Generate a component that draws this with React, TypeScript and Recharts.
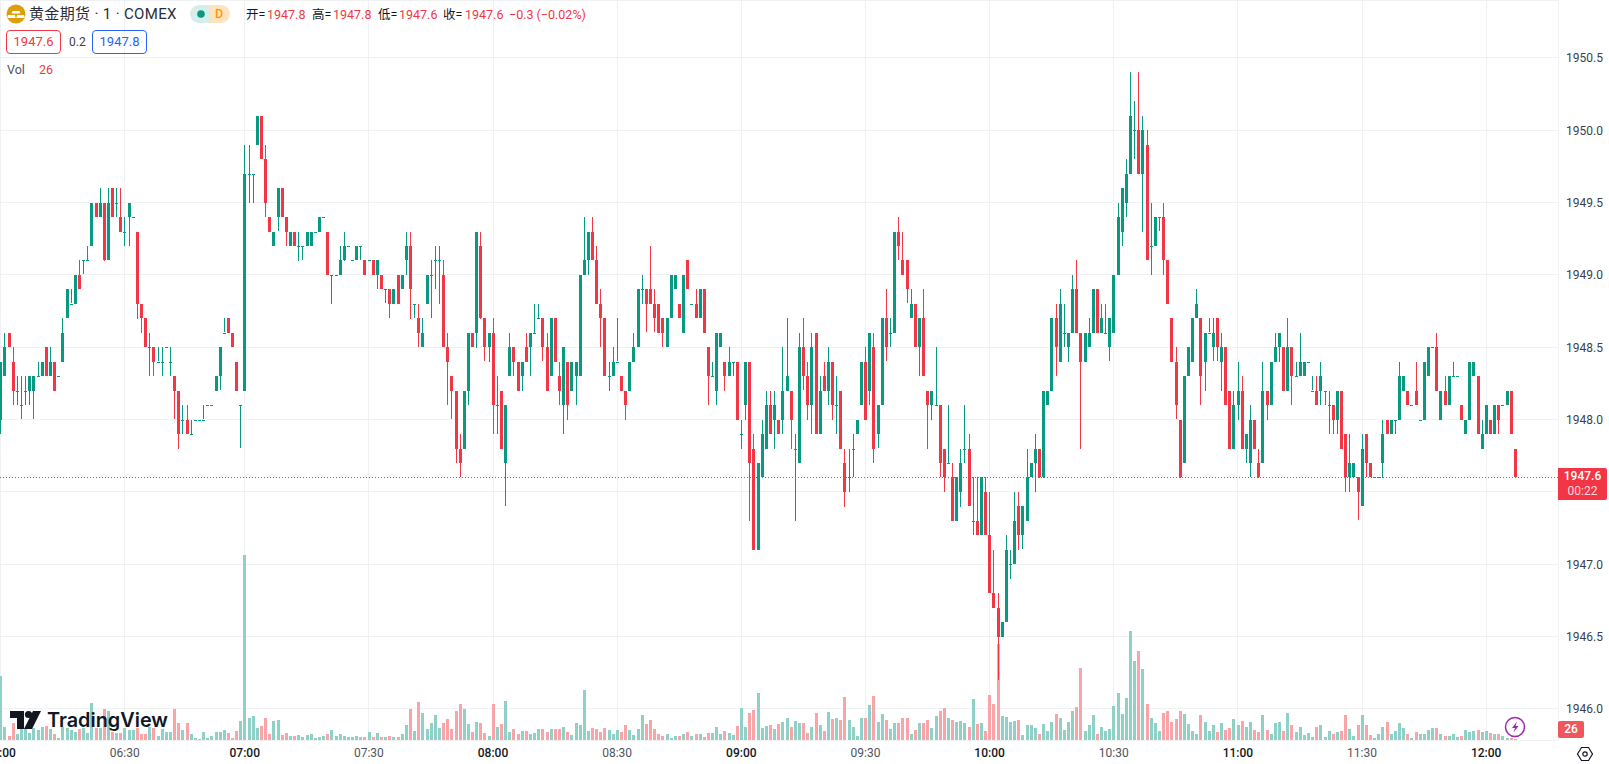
import React from "react";
import { ComposedChart, Bar, XAxis, YAxis, CartesianGrid, ReferenceLine } from "recharts";

// Prices are written relative to this base: 48.3 means 1948.3.
const PRICE_BASE = 1900;

const opens = [
  48.0,48.3,48.6,48.4,48.2,48.1,48.2,48.2,48.2,48.3,
  48.3,48.5,48.3,48.4,48.3,48.4,48.7,48.8,48.8,49.0,
  49.1,49.1,49.2,49.5,49.4,49.5,49.1,49.6,49.5,49.4,
  49.3,49.4,49.4,49.3,48.8,48.7,48.5,48.5,48.4,48.4,
  48.5,48.4,48.3,48.2,48.0,48.0,47.9,48.0,48.0,48.0,
  48.1,48.1,48.2,48.3,48.6,48.7,48.6,48.4,48.1,48.2,
  49.7,49.7,49.9,50.1,49.8,49.4,49.2,49.4,49.6,49.4,
  49.2,49.3,49.2,49.2,49.2,49.2,49.3,49.3,49.4,49.3,
  49.0,49.0,49.0,49.1,49.2,49.1,49.1,49.2,49.1,49.1,
  49.1,49.0,49.0,48.9,48.9,48.8,49.0,48.9,49.1,49.2,
  48.8,48.7,48.5,48.8,49.0,49.1,49.1,49.0,48.5,48.3,
  48.2,47.8,47.8,48.2,48.6,48.6,49.2,48.7,48.5,48.6,
  48.1,48.2,47.7,48.3,48.5,48.4,48.3,48.5,48.5,48.6,
  48.7,48.7,48.5,48.3,48.7,48.3,48.1,48.4,48.2,48.3,
  48.3,49.0,49.1,49.3,49.1,48.8,48.7,48.3,48.3,48.4,
  48.3,48.2,48.2,48.4,48.5,48.9,48.9,48.9,48.8,48.8,
  48.7,48.5,48.7,48.9,48.8,48.6,49.1,48.8,48.8,48.7,
  48.9,48.5,48.3,48.2,48.5,48.4,48.3,48.4,48.4,47.9,
  48.1,48.4,47.8,47.1,47.6,47.8,48.1,48.0,48.0,48.0,
  48.2,48.2,47.8,47.7,48.5,48.3,48.1,48.6,47.9,48.3,
  48.2,48.4,48.1,48.2,47.7,47.6,47.8,47.9,48.1,48.4,
  48.2,48.5,47.9,48.1,48.7,48.6,48.6,49.3,49.1,49.1,
  48.7,48.8,48.5,48.7,48.2,48.1,48.1,48.1,47.8,47.7,
  47.6,47.3,47.5,47.8,47.8,47.3,47.3,47.2,47.5,47.2,
  46.8,46.7,46.5,46.6,47.0,47.0,47.4,47.2,47.3,47.6,
  47.7,47.8,47.6,48.1,48.2,48.7,48.4,48.6,48.5,48.6,
  48.9,48.6,48.4,48.5,48.6,48.9,48.6,48.6,48.5,48.6,
  49.0,49.3,49.5,49.7,50.0,50.0,49.7,49.9,49.2,49.2,
  49.4,49.4,49.1,48.7,48.4,48.0,47.7,48.3,48.4,48.7,
  48.7,48.4,48.6,48.5,48.7,48.4,48.5,48.2,47.8,48.1,
  48.2,47.8,47.7,48.0,47.7,47.7,48.2,48.1,48.4,48.5,
  48.5,48.2,48.5,48.3,48.3,48.3,48.4,48.2,48.2,48.2,
  48.2,48.1,48.1,48.0,48.2,47.9,47.6,47.6,47.6,47.4,
  47.9,47.7,47.6,47.6,47.7,48.0,47.9,48.0,48.0,48.2,
  48.2,48.1,48.2,48.0,48.0,48.3,48.5,48.5,48.0,48.2,
  48.1,48.3,48.3,48.1,47.9,48.0,48.3,48.3,47.8,47.9,
  48.0,47.9,48.1,48.1,48.1,48.2,47.8,
];

const closes = [
  48.4,48.5,48.5,48.2,48.2,48.1,48.2,48.3,48.3,48.3,
  48.4,48.3,48.4,48.2,48.3,48.6,48.9,48.8,49.0,48.9,
  49.1,49.1,49.5,49.4,49.5,49.1,49.5,49.4,49.5,49.3,
  49.3,49.5,49.4,48.8,48.7,48.5,48.5,48.4,48.4,48.4,
  48.5,48.4,48.2,47.9,48.0,47.9,47.9,48.0,48.0,48.0,
  48.1,48.1,48.3,48.5,48.6,48.6,48.5,48.2,48.1,49.7,
  49.7,49.7,50.1,49.8,49.5,49.3,49.3,49.6,49.4,49.3,
  49.3,49.2,49.2,49.2,49.3,49.3,49.3,49.4,49.4,49.0,
  49.0,49.0,49.1,49.2,49.2,49.1,49.2,49.2,49.0,49.1,
  49.0,49.1,48.9,48.9,48.8,48.9,48.8,49.0,49.2,48.9,
  48.8,48.6,48.6,49.0,49.0,49.1,49.1,48.5,48.4,48.2,
  47.8,47.7,48.2,48.6,48.5,49.3,48.7,48.5,48.6,48.1,
  48.1,47.8,48.1,48.5,48.4,48.2,48.4,48.4,48.6,48.6,
  48.7,48.5,48.2,48.7,48.4,48.2,48.5,48.1,48.4,48.4,
  49.0,49.1,49.3,49.1,48.8,48.7,48.3,48.3,48.4,48.4,
  48.2,48.1,48.4,48.5,48.9,48.9,48.8,48.8,48.7,48.6,
  48.6,48.7,49.0,49.0,48.7,49.0,48.9,48.8,48.7,48.9,
  48.6,48.3,48.3,48.6,48.6,48.3,48.4,48.4,48.0,47.9,
  48.4,47.7,47.1,47.7,47.9,48.1,47.9,48.1,47.9,48.2,
  48.3,48.0,47.8,48.5,48.3,48.1,48.5,47.9,48.2,48.2,
  48.4,48.1,48.1,47.8,47.5,47.6,47.8,48.0,48.4,48.0,
  48.6,47.8,48.1,48.7,48.5,48.6,49.3,49.2,49.0,48.9,
  48.8,48.5,48.7,48.3,48.1,48.2,48.1,47.7,47.6,47.7,
  47.3,47.6,47.7,47.8,47.4,47.3,47.2,47.6,47.2,46.8,
  46.7,46.5,46.6,47.1,47.0,47.3,47.2,47.4,47.6,47.7,
  47.8,47.6,48.2,48.2,48.7,48.5,48.8,48.6,48.6,48.9,
  48.6,48.4,48.6,48.6,48.9,48.6,48.7,48.6,48.7,49.0,
  49.4,49.6,49.7,50.1,50.0,49.7,50.0,49.1,49.2,49.4,
  49.4,49.1,48.8,48.4,48.1,47.6,48.3,48.5,48.7,48.8,
  48.3,48.6,48.6,48.6,48.5,48.5,48.1,47.8,48.1,48.2,
  47.8,47.9,48.0,47.8,47.6,48.2,48.1,48.4,48.5,48.6,
  48.2,48.5,48.3,48.3,48.4,48.4,48.4,48.2,48.1,48.3,
  48.2,48.1,48.0,48.2,47.8,47.6,47.7,47.7,47.5,47.8,
  47.7,47.6,47.6,47.6,47.9,47.9,48.0,48.0,48.3,48.3,
  48.1,48.1,48.1,48.0,48.4,48.5,48.5,48.2,48.2,48.1,
  48.3,48.3,48.3,48.0,48.0,48.4,48.4,47.9,47.9,48.1,
  47.9,48.1,48.0,48.1,48.2,47.9,47.6,
];

const highs = [
  48.4,48.6,48.6,48.5,48.3,48.3,48.3,48.3,48.3,48.4,
  48.4,48.5,48.5,48.4,48.3,48.7,48.9,48.9,49.0,49.1,
  49.1,49.2,49.5,49.5,49.6,49.5,49.6,49.6,49.6,49.6,
  49.4,49.5,49.4,49.3,48.8,48.7,48.6,48.5,48.5,48.5,
  48.5,48.5,48.3,48.2,48.1,48.1,48.0,48.0,48.0,48.1,
  48.1,48.1,48.3,48.5,48.7,48.7,48.6,48.4,48.1,49.9,
  49.9,49.7,50.1,50.1,49.9,49.4,49.3,49.6,49.6,49.4,
  49.3,49.3,49.3,49.2,49.3,49.3,49.3,49.4,49.4,49.3,
  49.0,49.0,49.2,49.3,49.2,49.1,49.2,49.2,49.1,49.1,
  49.1,49.1,49.0,48.9,48.9,48.9,49.0,49.0,49.3,49.3,
  48.8,48.8,48.7,49.0,49.1,49.2,49.2,49.1,48.6,48.3,
  48.2,47.9,48.2,48.6,48.6,49.3,49.3,48.7,48.6,48.7,
  48.3,48.2,48.1,48.6,48.5,48.4,48.4,48.6,48.6,48.8,
  48.8,48.7,48.6,48.7,48.7,48.4,48.5,48.4,48.4,48.4,
  49.0,49.4,49.3,49.4,49.2,48.9,48.7,48.4,48.5,48.7,
  48.3,48.2,48.4,48.6,48.9,49.0,48.9,49.2,48.9,48.8,
  48.7,48.7,49.0,49.0,48.8,49.0,49.1,48.8,48.9,48.9,
  48.9,48.5,48.4,48.6,48.6,48.4,48.5,48.4,48.4,48.0,
  48.4,48.4,47.9,47.7,48.0,48.2,48.2,48.2,48.0,48.5,
  48.7,48.2,47.9,48.6,48.7,48.4,48.6,48.6,48.3,48.4,
  48.5,48.4,48.3,48.2,47.8,47.8,47.9,48.0,48.4,48.5,
  48.6,48.6,48.1,48.7,48.9,48.7,49.3,49.4,49.3,49.1,
  48.9,48.8,48.7,48.9,48.2,48.2,48.5,48.1,47.8,48.1,
  47.7,47.6,47.8,48.1,47.9,47.6,47.6,47.6,47.6,47.5,
  47.1,46.8,46.6,47.2,47.1,47.5,47.5,47.4,47.8,47.7,
  47.9,47.8,48.2,48.2,48.7,48.8,48.9,48.8,48.6,49.0,
  49.1,48.6,48.6,48.7,48.9,48.9,48.8,48.8,48.7,49.0,
  49.5,49.6,49.8,50.4,50.2,50.4,50.1,50.0,49.5,49.4,
  49.4,49.5,49.1,48.7,48.5,48.0,48.3,48.5,48.7,48.9,
  48.7,48.6,48.7,48.7,48.7,48.6,48.5,48.2,48.2,48.4,
  48.3,47.9,48.1,48.0,47.8,48.4,48.2,48.4,48.6,48.6,
  48.5,48.7,48.5,48.4,48.6,48.4,48.4,48.3,48.3,48.4,
  48.2,48.2,48.1,48.2,48.2,47.9,47.9,47.7,47.6,47.9,
  47.9,47.7,47.6,47.6,48.0,48.0,48.0,48.0,48.4,48.3,
  48.2,48.1,48.4,48.0,48.4,48.5,48.5,48.6,48.2,48.3,
  48.3,48.4,48.3,48.1,48.0,48.4,48.4,48.3,48.0,48.1,
  48.0,48.1,48.1,48.1,48.2,48.2,47.8,
];

const lows = [
  47.9,48.3,48.5,48.1,48.1,48.0,48.1,48.1,48.0,48.3,
  48.3,48.3,48.3,48.2,48.3,48.4,48.7,48.8,48.8,48.9,
  49.0,49.1,49.2,49.4,49.4,49.1,49.1,49.4,49.4,49.3,
  49.2,49.2,49.4,48.7,48.6,48.5,48.3,48.3,48.4,48.3,
  48.5,48.3,48.0,47.8,47.9,47.9,47.9,48.0,48.0,48.0,
  48.1,48.1,48.2,48.2,48.6,48.6,48.5,48.2,47.8,48.2,
  49.5,49.5,49.9,49.8,49.4,49.3,49.2,49.3,49.4,49.2,
  49.2,49.2,49.1,49.1,49.2,49.2,49.3,49.3,49.4,49.0,
  48.8,49.0,49.0,49.1,49.2,49.1,49.1,49.1,49.0,49.1,
  49.0,48.9,48.9,48.8,48.7,48.8,48.8,48.9,49.0,48.7,
  48.7,48.5,48.5,48.8,48.7,48.9,48.8,48.5,48.1,48.0,
  47.7,47.6,47.8,48.1,48.5,48.5,48.7,48.4,48.4,47.9,
  47.9,47.8,47.4,48.3,48.3,48.2,48.2,48.4,48.3,48.6,
  48.7,48.4,48.2,48.3,48.4,48.1,47.9,48.0,48.2,48.1,
  48.3,49.0,49.0,49.1,48.8,48.5,48.3,48.2,48.3,48.4,
  48.2,48.0,48.2,48.4,48.5,48.8,48.6,48.8,48.6,48.6,
  48.5,48.5,48.7,48.9,48.7,48.6,48.9,48.8,48.7,48.7,
  48.6,48.1,48.3,48.1,48.5,48.2,48.3,48.3,48.0,47.8,
  48.0,47.3,47.1,47.1,47.6,47.8,47.9,47.8,47.9,47.9,
  48.2,47.8,47.3,47.7,48.2,48.0,47.9,47.9,47.9,48.2,
  48.1,48.0,47.9,47.8,47.4,47.5,47.6,47.9,48.1,48.0,
  48.1,47.7,47.8,48.1,48.4,48.5,48.6,49.1,49.0,48.8,
  48.7,48.5,48.3,48.3,47.8,48.0,48.1,47.6,47.5,47.7,
  47.3,47.3,47.4,47.7,47.4,47.2,47.2,47.2,47.2,46.8,
  46.7,46.2,46.5,46.6,46.9,47.0,47.1,47.1,47.3,47.6,
  47.5,47.6,47.6,48.1,48.2,48.3,48.4,48.5,48.4,48.6,
  48.6,47.8,48.4,48.5,48.6,48.6,48.6,48.6,48.4,48.6,
  49.0,49.2,49.4,49.7,49.8,49.7,49.3,49.1,49.0,49.2,
  49.3,49.0,48.8,48.4,48.0,47.6,47.7,48.3,48.4,48.7,
  48.1,48.2,48.6,48.4,48.4,48.2,48.1,47.8,47.8,48.0,
  47.8,47.7,47.6,47.8,47.6,47.7,48.0,48.1,48.4,48.4,
  48.2,48.2,48.1,48.3,48.3,48.3,48.4,48.2,48.1,48.1,
  48.1,47.9,47.9,47.9,47.8,47.5,47.5,47.6,47.3,47.4,
  47.6,47.6,47.6,47.6,47.6,47.9,47.9,47.9,48.0,48.2,
  48.1,48.1,48.1,48.0,48.0,48.3,48.5,48.2,48.0,48.1,
  48.1,48.3,48.3,48.0,47.9,48.0,48.3,47.9,47.8,47.9,
  47.9,47.9,47.9,48.1,48.1,47.9,47.6,
];

// Volume, in units of roughly twenty contracts, read from the bottom pane.
const volumes = [
  64,13,4,17,6,12,12,7,12,10,13,14,11,6,2,13,12,10,8,11,
  12,7,37,12,12,31,29,8,7,7,12,10,10,12,6,6,13,12,4,11,
  8,8,31,17,10,17,6,2,1,8,2,4,8,8,10,7,2,9,19,185,
  22,24,12,14,22,6,19,20,5,7,4,4,5,3,5,6,2,3,4,6,
  10,4,6,4,3,3,4,3,3,8,3,7,3,3,4,3,3,6,15,31,
  9,38,27,11,17,25,12,17,21,11,29,36,31,16,8,18,17,7,4,36,
  13,16,39,8,11,6,9,9,6,7,11,11,8,11,11,11,13,8,5,17,
  15,50,9,12,11,8,12,10,6,10,8,15,10,5,11,25,16,20,11,6,
  4,6,2,4,4,6,8,4,6,6,3,7,7,13,6,9,7,5,14,32,
  13,27,30,47,12,14,15,11,16,18,22,13,19,17,17,7,13,27,15,9,
  28,21,22,20,43,20,13,4,22,22,35,44,18,26,20,11,17,17,22,22,
  6,10,17,17,20,12,24,29,32,22,20,18,19,17,13,41,16,17,9,45,
  36,96,24,23,18,19,20,5,15,15,12,6,16,9,18,26,22,10,18,29,
  33,72,9,15,25,6,13,9,11,34,47,26,42,109,79,89,71,36,22,17,
  9,27,29,18,21,29,26,16,9,6,25,18,9,15,8,17,10,12,21,15,
  19,13,18,10,8,25,10,6,17,18,9,27,15,8,13,5,7,3,13,15,
  3,9,6,8,9,25,11,4,15,25,15,5,2,6,13,18,6,9,17,12,
  6,2,8,6,6,10,12,12,6,4,4,6,3,4,10,8,9,10,8,9,
  7,6,6,4,2,2,1,
];

const timeIndex = [0, 30, 59, 89, 119, 149, 179, 209, 239, 269, 299, 329, 359];
const timeLabels = ["06:00", "06:30", "07:00", "07:30", "08:00", "08:30", "09:00", "09:30", "10:00", "10:30", "11:00", "11:30", "12:00"];
const priceTicks = [1946, 1946.5, 1947, 1947.5, 1948, 1948.5, 1949, 1949.5, 1950, 1950.5];
// The live price tag sits over this tick in the reference, so its label stays empty.
const hiddenPriceLabel = 1947.5;

const GREEN = "#089981";
const RED = "#f23645";
const VOL_GREEN = "#8fd1c6";
const VOL_RED = "#f8a4a8";
const GRID = "#f0f1f3";
const INK = "#131722";
const UI_FONT = "Roboto, 'Noto Sans CJK SC', sans-serif";

const candles = opens.map((o, i) => ({
  i,
  open: PRICE_BASE + o,
  close: PRICE_BASE + closes[i],
  high: PRICE_BASE + highs[i],
  low: PRICE_BASE + lows[i],
  range: [PRICE_BASE + lows[i], PRICE_BASE + highs[i]],
  volume: volumes[i],
}));

function CandleShape(props: any) {
  const { x, y, height, payload } = props;
  const top = Math.min(y, y + height);
  const h = Math.abs(height);
  const span = payload.high - payload.low;
  const at = (v: number) => (span > 0 ? top + ((payload.high - v) / span) * h : top);
  const color = payload.close >= payload.open ? GREEN : RED;
  const left = Math.round(x - 0.2);
  const bodyTop = Math.round(at(Math.max(payload.open, payload.close)));
  const bodyBottom = Math.round(at(Math.min(payload.open, payload.close)));
  return (
    <g shapeRendering="crispEdges">
      {h > 0 && <rect x={left + 1} y={Math.round(top)} width={1} height={Math.max(1, Math.round(h))} fill={color} />}
      <rect x={left} y={bodyTop} width={3} height={Math.max(1, bodyBottom - bodyTop)} fill={color} />
    </g>
  );
}

function VolumeShape(props: any) {
  const { x, y, height, payload } = props;
  const top = Math.round(y);
  const bottom = Math.round(y + height);
  return (
    <rect
      x={Math.round(x - 0.2)}
      y={top}
      width={3}
      height={Math.max(1, bottom - top)}
      fill={payload.close >= payload.open ? VOL_GREEN : VOL_RED}
      shapeRendering="crispEdges"
    />
  );
}

function TimeTick(props: any) {
  const { x, y, payload } = props;
  const label = timeLabels[timeIndex.indexOf(payload.value)] ?? "";
  const isHour = label.endsWith(":00");
  return (
    <text x={x} y={y + 17} textAnchor="middle" fontSize={12} fontFamily={UI_FONT} fontWeight={isHour ? 500 : 400} fill={isHour ? INK : "#50535e"}>
      {label}
    </text>
  );
}

const label = (x: number, y: number, text: string, color: string, size = 13, extra: React.CSSProperties = {}) => (
  <div style={{ position: "absolute", left: x, top: y, fontSize: size, lineHeight: "18px", color, whiteSpace: "nowrap", fontFamily: UI_FONT, ...extra }}>{text}</div>
);

function Header() {
  return (
    <>
      <svg style={{ position: "absolute", left: 0, top: 0 }} width={240} height={30}>
        <circle cx={16} cy={14} r={9.5} fill="#dc9f0a" />
        <path d="M12.5 11 L19.5 11 L20.5 13.5 L11.5 13.5 Z" fill="#fff" />
        <path d="M8 15 L15 15 L15.6 18 L7.2 18 Z M17 15 L24 15 L24.8 18 L16.4 18 Z" fill="#fff" />
        <path d="M210 5 H199 A9 9 0 0 0 199 23 H210 Z" fill="#d5eeea" />
        <path d="M210 5 H221 A9 9 0 0 1 221 23 H210 Z" fill="#ffe3bf" />
        <circle cx={201} cy={14} r={3.8} fill={GREEN} />
      </svg>
      {label(29, 5, "黄金期货 · 1 · COMEX", "#2a2e39", 15, { letterSpacing: 0.35 })}
      {label(215, 5, "D", "#ff9800", 12.5, { fontWeight: 500 })}
      {label(246, 6, "开=", INK, 12.5)}
      {label(267, 6, "1947.8", RED, 12.5)}
      {label(312, 6, "高=", INK, 12.5)}
      {label(333, 6, "1947.8", RED, 12.5)}
      {label(378, 6, "低=", INK, 12.5)}
      {label(399, 6, "1947.6", RED, 12.5)}
      {label(443, 6, "收=", INK, 12.5)}
      {label(465, 6, "1947.6", RED, 12.5)}
      {label(509, 6, "−0.3 (−0.02%)", RED, 12.5)}
      <div style={{ position: "absolute", left: 6, top: 30, width: 53, height: 22, border: `1px solid ${RED}`, borderRadius: 4, color: RED, fontSize: 13, lineHeight: "22px", textAlign: "center", fontFamily: UI_FONT }}>1947.6</div>
      {label(69, 33, "0.2", "#3c3f48", 12)}
      <div style={{ position: "absolute", left: 92, top: 30, width: 53, height: 22, border: "1px solid #2962ff", borderRadius: 4, color: "#2962ff", fontSize: 13, lineHeight: "22px", textAlign: "center", fontFamily: UI_FONT }}>1947.8</div>
      {label(7, 61, "Vol", "#50535e", 12.5)}
      {label(39, 61, "26", RED, 12.5)}
    </>
  );
}

function Footer() {
  return (
    <>
      <svg style={{ position: "absolute", left: 0, top: 700 }} width={180} height={40}>
        <path d="M10 11 H24 V29 H17 V18 H10 Z" fill="#131722" />
        <circle cx={28.5} cy={14.5} r={3.6} fill="#131722" />
        <path d="M33 11 H41 L32 29 H24 Z" fill="#131722" />
        <text x={47} y={27} fontSize={20} fontWeight={600} fontFamily="Inter, Roboto, sans-serif" fill="#131722" textLength={121} lengthAdjust="spacingAndGlyphs">TradingView</text>
      </svg>
      <svg style={{ position: "absolute", left: 1501, top: 714 }} width={30} height={28}>
        <circle cx={14} cy={13} r={9.5} fill="#fff" stroke="#9c27b0" strokeWidth={1.5} />
        <path d="M16 7.5 L11 14 H14 L12.5 18.5 L17.5 12 H14.5 Z" fill="#9c27b0" />
      </svg>
      <svg style={{ position: "absolute", left: 1576, top: 744 }} width={20} height={20}>
        <path d="M5.5 3.5 H12.5 L16.5 10 L12.5 16.5 H5.5 L1.5 10 Z" fill="none" stroke="#131722" strokeWidth={1.2} />
        <circle cx={9} cy={10} r={2.2} fill="none" stroke="#131722" strokeWidth={1.2} />
      </svg>
      <div style={{ position: "absolute", left: 1558, top: 468, width: 49, height: 32, background: RED, borderRadius: "0 2px 2px 0", color: "#fff", fontFamily: UI_FONT, fontSize: 12, lineHeight: "15px", paddingTop: 1, boxSizing: "border-box", textAlign: "center" }}>
        <div style={{ fontWeight: 500 }}>1947.6</div>
        <div style={{ color: "#fcd7da" }}>00:22</div>
      </div>
      <div style={{ position: "absolute", left: 1558, top: 721, width: 26, height: 17, background: "#f0575c", borderRadius: 2, color: "#fff", fontFamily: UI_FONT, fontSize: 12, fontWeight: 500, lineHeight: "17px", textAlign: "center" }}>26</div>
    </>
  );
}

const X_DOMAIN: [number, number] = [-0.145, 376.36];

export default function App() {
  return (
    <div style={{ position: "absolute", left: 0, top: 0, width: 1609, height: 764, overflow: "hidden", background: "#fff" }}>
      <ComposedChart width={1609} height={764} data={candles} margin={{ top: 0, right: 0, bottom: 0, left: 0 }}>
        <CartesianGrid xAxisId="time" yAxisId="price" stroke={GRID} strokeWidth={1} shapeRendering="crispEdges" />
        <XAxis
          xAxisId="time"
          dataKey="i"
          type="number"
          domain={X_DOMAIN}
          allowDataOverflow
          ticks={timeIndex}
          interval={0}
          height={24}
          axisLine={false}
          tickLine={false}
          tickSize={0}
          tickMargin={0}
          tick={TimeTick}
        />
        <XAxis xAxisId="volumeTime" dataKey="i" type="number" domain={X_DOMAIN} allowDataOverflow hide height={0} />
        <YAxis
          yAxisId="price"
          orientation="right"
          type="number"
          domain={[1945.785, 1950.9008]}
          allowDataOverflow
          ticks={priceTicks}
          interval={0}
          width={51}
          axisLine={false}
          tickLine={false}
          tickSize={0}
          tickMargin={8}
          tickFormatter={(v: number) => (v === hiddenPriceLabel ? "" : v.toFixed(1))}
          tick={{ fontSize: 12, fontFamily: UI_FONT, fill: "#3c3f48" }}
        />
        <YAxis yAxisId="volume" hide type="number" domain={[0, 740]} allowDataOverflow />
        <Bar xAxisId="volumeTime" yAxisId="volume" dataKey="volume" barSize={3} shape={VolumeShape} isAnimationActive={false} />
        <Bar xAxisId="time" yAxisId="price" dataKey="range" barSize={3} shape={CandleShape} isAnimationActive={false} />
        <ReferenceLine xAxisId="time" yAxisId="price" y={1947.6} stroke={RED} strokeDasharray="1 2" strokeWidth={1} shapeRendering="crispEdges" />
      </ComposedChart>
      <Header />
      <Footer />
    </div>
  );
}
